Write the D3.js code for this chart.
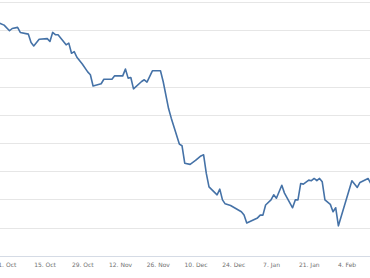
<!DOCTYPE html>
<html>
<head>
<meta charset="utf-8">
<script src="https://cdn.jsdelivr.net/npm/d3@7"></script>
<style>
  html, body { margin: 0; padding: 0; background: #fff; overflow: hidden; }
  #chart { width: 370px; height: 278px; }
  .tick text { font-family: "DejaVu Sans", Verdana, sans-serif; font-size: 6px; fill: #707070; }
</style>
</head>
<body>
<div id="chart"></div>
<script>
// Daily closing values
const dates = [
  "2012-09-28", "2012-09-30", "2012-10-02", "2012-10-03", "2012-10-05", "2012-10-06",
  "2012-10-09", "2012-10-10", "2012-10-11", "2012-10-13", "2012-10-16", "2012-10-17",
  "2012-10-18", "2012-10-19", "2012-10-20", "2012-10-23", "2012-10-24", "2012-10-25",
  "2012-10-26", "2012-10-27", "2012-10-29", "2012-10-31", "2012-11-01", "2012-11-02",
  "2012-11-05", "2012-11-06", "2012-11-09", "2012-11-10", "2012-11-13", "2012-11-14",
  "2012-11-15", "2012-11-16", "2012-11-17", "2012-11-20", "2012-11-21", "2012-11-22",
  "2012-11-24", "2012-11-27", "2012-11-28", "2012-11-30", "2012-12-01", "2012-12-04",
  "2012-12-05", "2012-12-06", "2012-12-08", "2012-12-10", "2012-12-12", "2012-12-13",
  "2012-12-14", "2012-12-15", "2012-12-18", "2012-12-19", "2012-12-20", "2012-12-21",
  "2012-12-23", "2012-12-27", "2012-12-28", "2012-12-29", "2013-01-02", "2013-01-03",
  "2013-01-04", "2013-01-05", "2013-01-07", "2013-01-08", "2013-01-09", "2013-01-11",
  "2013-01-12", "2013-01-15", "2013-01-16", "2013-01-17", "2013-01-18", "2013-01-19",
  "2013-01-21", "2013-01-22", "2013-01-23", "2013-01-24", "2013-01-25", "2013-01-26",
  "2013-01-27", "2013-01-29", "2013-01-30", "2013-01-31", "2013-02-01", "2013-02-06",
  "2013-02-08", "2013-02-09", "2013-02-12", "2013-02-13"
];
const values = [
  81.3, 80.9, 79.9, 80.3, 80.5, 79.6,
  79.3, 77.8, 77.2, 78.4, 78.5, 78.0,
  79.6, 79.2, 79.2, 77.4, 77.7, 75.9,
  76.2, 75.2, 74.0, 72.6, 72.1, 70.1,
  70.5, 71.3, 71.3, 71.9, 71.9, 73.1,
  71.5, 71.6, 69.6, 70.9, 71.2, 70.8,
  72.8, 72.8, 70.9, 66.1, 64.4, 59.8,
  59.5, 56.4, 56.2, 56.9, 57.7, 57.9,
  54.6, 52.2, 50.8, 51.8, 49.9, 49.2,
  48.9, 47.8, 47.2, 45.8, 46.7, 47.2,
  47.2, 49.0, 49.9, 50.8, 50.2, 52.5,
  51.1, 48.5, 49.9, 49.9, 52.8, 52.7,
  53.4, 53.3, 53.7, 53.3, 53.7, 53.1,
  49.9, 49.1, 47.8, 48.5, 45.3, 53.3,
  52.1, 53.0, 53.7, 52.8
];
// x axis labels (every two weeks)
const tickDates = [
  "2012-10-01", "2012-10-15", "2012-10-29", "2012-11-12", "2012-11-26",
  "2012-12-10", "2012-12-24", "2013-01-07", "2013-01-21", "2013-02-04"
];
const yTicks = [40, 45, 50, 55, 60, 65, 70, 75, 80, 85];

const width = 370, height = 278;
const parse = d3.timeParse("%Y-%m-%d");
const data = dates.map((d, i) => ({ date: parse(d), value: values[i] }));

const svg = d3.select("#chart").append("svg")
    .attr("width", width)
    .attr("height", height);

// the plot area runs off both sides of the window
const x = d3.scaleTime()
    .domain([parse("2012-10-01"), parse("2013-02-04")])
    .range([6.8, 346.5]);
const y = d3.scaleLinear()
    .domain([40, 85])
    .range([255.7, 2]);

// grid lines
svg.append("g")
    .selectAll("line")
    .data(yTicks.slice(1))
    .join("line")
    .attr("x1", 0)
    .attr("x2", width)
    .attr("y1", d => Math.round(y(d)) + 0.5)
    .attr("y2", d => Math.round(y(d)) + 0.5)
    .attr("stroke", "#e6e6e6")
    .attr("stroke-width", 1);

// x axis
const xAxis = d3.axisBottom(x)
    .tickValues(tickDates.map(parse))
    .tickSize(0)
    .tickPadding(6)
    .tickFormat(d3.timeFormat("%-d. %b"));

const gx = svg.append("g")
    .attr("transform", `translate(0,${Math.round(y(40)) + 0.5})`)
    .call(xAxis);
gx.select(".domain").remove();
gx.append("line")
    .attr("x1", 0)
    .attr("x2", width)
    .attr("stroke", "#d5dbe5")
    .attr("stroke-width", 1);

// the series
const line = d3.line()
    .x(d => x(d.date))
    .y(d => y(d.value));

svg.append("path")
    .datum(data)
    .attr("fill", "none")
    .attr("stroke", "#4572A7")
    .attr("stroke-width", 1.6)
    .attr("stroke-linejoin", "round")
    .attr("d", line);
</script>
</body>
</html>
